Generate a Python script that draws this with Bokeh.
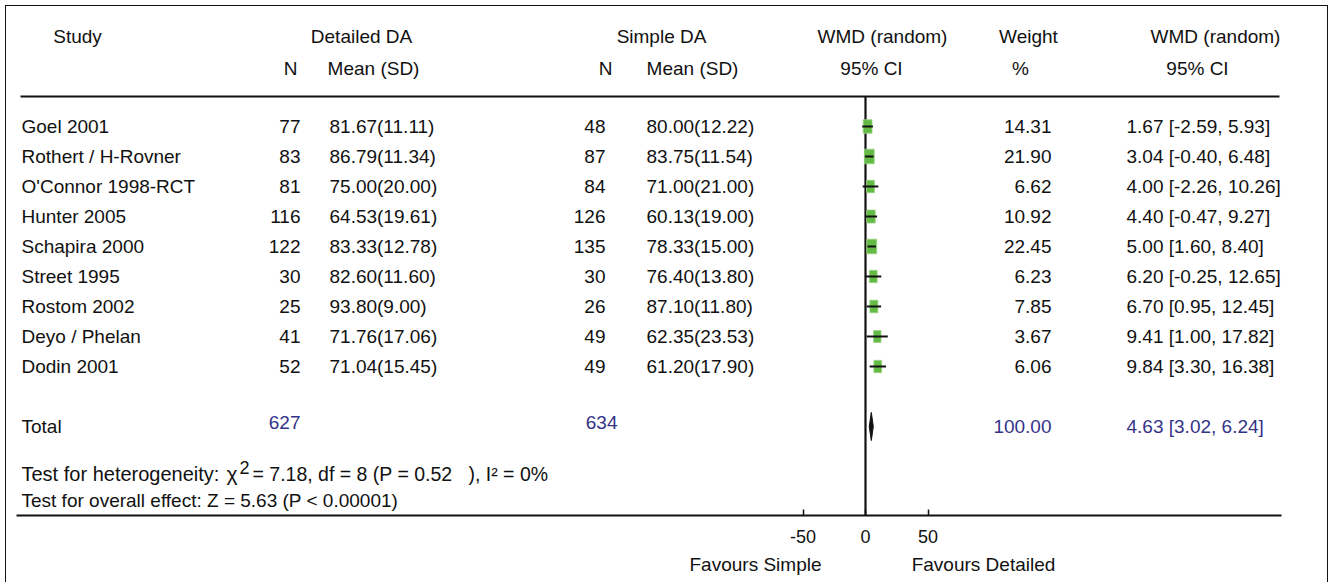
from bokeh.plotting import figure
from bokeh.models import Range1d, LinearAxis, FixedTicker, ColumnDataSource
from bokeh.core.properties import value
from bokeh.embed import file_html
from bokeh.resources import INLINE

# ---------------- data ----------------
studies = ["Goel 2001", "Rothert / H-Rovner", "O'Connor 1998-RCT", "Hunter 2005",
           "Schapira 2000", "Street 1995", "Rostom 2002", "Deyo / Phelan", "Dodin 2001"]
n_detailed = [77, 83, 81, 116, 122, 30, 25, 41, 52]
mean_detailed = [81.67, 86.79, 75.00, 64.53, 83.33, 82.60, 93.80, 71.76, 71.04]
sd_detailed = [11.11, 11.34, 20.00, 19.61, 12.78, 11.60, 9.00, 17.06, 15.45]
n_simple = [48, 87, 84, 126, 135, 30, 26, 49, 49]
mean_simple = [80.00, 83.75, 71.00, 60.13, 78.33, 76.40, 87.10, 62.35, 61.20]
sd_simple = [12.22, 11.54, 21.00, 19.00, 15.00, 13.80, 11.80, 23.53, 17.90]
weight = [14.31, 21.90, 6.62, 10.92, 22.45, 6.23, 7.85, 3.67, 6.06]
wmd = [1.67, 3.04, 4.00, 4.40, 5.00, 6.20, 6.70, 9.41, 9.84]
ci_low = [-2.59, -0.40, -2.26, -0.47, 1.60, -0.25, 0.95, 1.00, 3.30]
ci_high = [5.93, 6.48, 10.26, 9.27, 8.40, 12.65, 12.45, 17.82, 16.38]
total_weight = 100.00
total_wmd = 4.63
total_low = 3.02
total_high = 6.24
axis_ticks = [-50, 0, 50]
axis_labels = ["-50", "0", "50"]
het_parts = ["Test for heterogeneity:", "\u03c7", "2",
             "= 7.18, df = 8 (P = 0.52\u00a0\u00a0\u00a0), I\u00b2 = 0%"]
overall_text = "Test for overall effect: Z = 5.63 (P < 0.00001)"
favours = ["Favours Simple", "Favours Detailed"]

# ---------------- layout constants ----------------
FONT_NAME = "Liberation Sans"
FONT = value(FONT_NAME)
FS = "19px"
W, H = 1323, 577
PX_PER_UNIT = 1.25
ZERO_X = 866.0
X0, X1 = 17.0, 1282.0
TOP_ROW, BOTTOM_ROW = -4.0, 12.967

host_css = (":host { margin: 5px 0 0 5px; border-style: solid; border-color: #111; "
            "border-width: 1.5px 1.5px 0 1.5px; }")

p = figure(width=W, height=H, output_backend="svg", toolbar_location=None,
           x_axis_type=None, y_axis_type=None,
           x_range=Range1d(X0, X1), y_range=Range1d(BOTTOM_ROW, TOP_ROW),
           min_border_left=10, min_border_right=48, min_border_top=0, min_border_bottom=68,
           background_fill_color="white", border_fill_color="white",
           outline_line_color=None, stylesheets=[host_css])
p.grid.visible = False
p.extra_x_ranges = {"wmd": Range1d((X0 - ZERO_X) / PX_PER_UNIT, (X1 - ZERO_X) / PX_PER_UNIT)}


def txt(x, y, t, align="left", color="#111", size=FS, xr="default"):
    p.text(x=x, y=y, text=t, text_align=align, text_baseline="middle",
           text_font=FONT, text_font_size=size, text_color=color, x_range_name=xr)


# headers
h1 = -3.0
h2 = -1.93
txt([78], [h1], ["Study"], "center")
txt([362], [h1], ["Detailed DA"], "center")
txt([662], [h1], ["Simple DA"], "center")
txt([883], [h1], ["WMD (random)"], "center")
txt([1029], [h1], ["Weight"], "center")
txt([1216], [h1], ["WMD (random)"], "center")
txt([291, 606], [h2, h2], ["N", "N"], "center")
txt([374, 693], [h2, h2], ["Mean (SD)", "Mean (SD)"], "center")
txt([872, 1198], [h2, h2], ["95% CI", "95% CI"], "center")
txt([1021], [h2], ["%"], "center")

# header rule
p.segment(x0=[21], x1=[1280], y0=[-1.0], y1=[-1.0], line_color="#111", line_width=2)

rows = list(range(len(studies)))
src = ColumnDataSource(dict(
    y=rows, study=studies,
    nd=[str(v) for v in n_detailed],
    md=[f"{m:.2f}({s:.2f})" for m, s in zip(mean_detailed, sd_detailed)],
    ns=[str(v) for v in n_simple],
    ms=[f"{m:.2f}({s:.2f})" for m, s in zip(mean_simple, sd_simple)],
    w=[f"{v:.2f}" for v in weight],
    ci=[f"{e:.2f} [{l:.2f}, {h:.2f}]" for e, l, h in zip(wmd, ci_low, ci_high)],
    est=wmd, lo=ci_low, hi=ci_high,
    sw=[7.0 + 0.13 * v for v in weight], sh=[11.5 + 0.14 * v for v in weight],
))


def col(x, field, align):
    p.text(x=x, y="y", text=field, source=src, text_align=align, text_baseline="middle",
           text_font=FONT, text_font_size=FS, text_color="#111")


col(22, "study", "left")
col(301, "nd", "right")
col(330, "md", "left")
col(606, "ns", "right")
col(647, "ms", "left")
col(1052, "w", "right")
col(1127, "ci", "left")

# forest marks
p.segment(x0=[0], x1=[0], y0=[-1.0], y1=[BOTTOM_ROW], x_range_name="wmd",
          line_color="#111", line_width=2.2)
p.rect(x="est", y="y", width="sw", height="sh", width_units="screen", height_units="screen",
       source=src, x_range_name="wmd", fill_color="#63BB45", line_color="#9ED386", line_width=0.8)
p.segment(x0="lo", x1="hi", y0="y", y1="y", source=src, x_range_name="wmd",
          line_color="#111", line_width=2)

# total row
ty = 10.0
txt([22], [ty], ["Total"])
txt([301], [ty - 0.13], [str(sum(n_detailed))], "right", "#333388")
txt([618], [ty - 0.13], [str(sum(n_simple))], "right", "#333388")
txt([1052], [ty], [f"{total_weight:.2f}"], "right", "#333388")
txt([1127], [ty], [f"{total_wmd:.2f} [{total_low:.2f}, {total_high:.2f}]"], "left", "#333388")
p.patch(x=[total_low, total_wmd, total_high, total_wmd], y=[ty, ty - 0.47, ty, ty + 0.47],
        x_range_name="wmd", fill_color="#111", line_color="#111", line_width=1)

# test statistics
txt([22], [11.6], [het_parts[0]], size="20px")
txt([227], [11.58], [het_parts[1]], size="21px")
txt([240], [11.37], [het_parts[2]], size="18px")
txt([253], [11.6], [het_parts[3]], size="19.5px")
txt([22], [12.47], [overall_text])

# axes
ax = LinearAxis(x_range_name="wmd", ticker=FixedTicker(ticks=axis_ticks),
                major_label_overrides=dict(zip(axis_ticks, axis_labels)),
                major_tick_in=6, major_tick_out=0, minor_tick_line_color=None,
                axis_line_width=2, axis_line_color="#111", major_tick_line_width=1.5,
                major_tick_line_color="#111",
                major_label_text_font=FONT_NAME, major_label_text_font_size="18px",
                major_label_text_color="#111", major_label_standoff=14)
p.add_layout(ax, "below")
fav_pos = [-88.0, 94.4]
ax2 = LinearAxis(x_range_name="wmd", ticker=FixedTicker(ticks=fav_pos),
                 major_label_overrides={fav_pos[0]: favours[0], fav_pos[1]: favours[1]},
                 axis_line_color=None, major_tick_line_color=None, minor_tick_line_color=None,
                 major_tick_in=0, major_tick_out=0,
                 major_label_text_font=FONT_NAME, major_label_text_font_size="19px",
                 major_label_text_color="#111", major_label_standoff=8)
p.add_layout(ax2, "below")

open("out.html", "w").write(file_html(p, INLINE))
